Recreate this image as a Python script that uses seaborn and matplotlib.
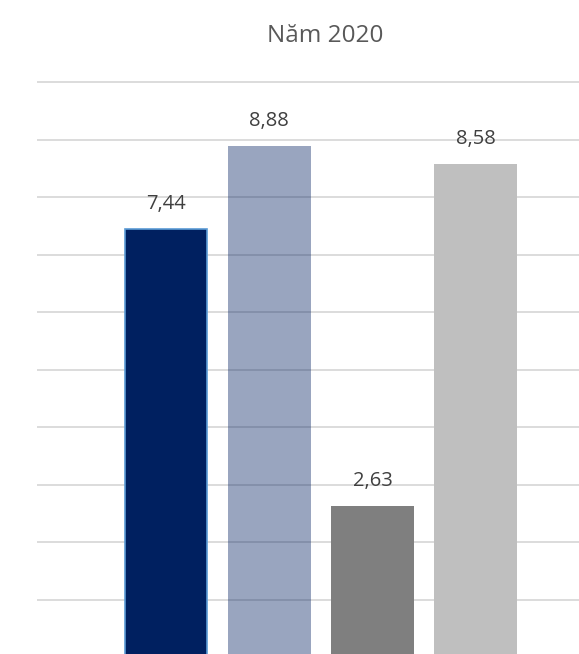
import matplotlib
matplotlib.use("Agg")
import matplotlib.pyplot as plt
import seaborn as sns
import pandas as pd

# Data
categories = ["A", "B", "C", "D"]
values = [7.44, 8.88, 2.63, 8.58]
labels = ["7,44", "8,88", "2,63", "8,58"]
colors = ["#002060", "#002060", "#7F7F7F", "#BFBFBF"]
alphas = [1.0, 0.4, 1.0, 1.0]

df = pd.DataFrame({"cat": categories, "val": values})

sns.set_theme(style="white")
plt.rcParams["font.family"] = ["Open Sans", "DejaVu Sans"]

W, H = 579, 654
fig = plt.figure(figsize=(W / 100, H / 100), dpi=100)

# axes geometry in pixels
px_per_unit = 57.56
y_top_val = 10.1
y_bot_val = 0.06
top_px = 82 - (y_top_val - 10) * px_per_unit
bot_px = 654
left_px, right_px = 37, 579
ax = fig.add_axes([left_px / W, 1 - bot_px / H, (right_px - left_px) / W, (bot_px - top_px) / H])

# gridlines beneath bars
for v in range(1, 11):
    ax.axhline(v, color="#D9D9D9", lw=1.3, zorder=0)

sns.barplot(data=df, x="cat", y="val", hue="cat", palette=colors, legend=False,
            width=0.8, ax=ax, zorder=2, saturation=1)

for i, p in enumerate(ax.patches):
    p.set_alpha(alphas[i])
    if i == 0:
        p.set_edgecolor("#5B9BD5")
        p.set_linewidth(1.2)
    else:
        p.set_linewidth(0)

label_offset = 25 / px_per_unit
for i, (v, t) in enumerate(zip(values, labels)):
    ax.text(i, v + label_offset, t, ha="center", va="center", fontsize=14.5,
            color="#404040", zorder=3)

ax.set_xlim(-1.25, 4.0)
ax.set_ylim(y_bot_val, y_top_val)
ax.set_xlabel("")
ax.set_ylabel("")
ax.set_xticks([])
ax.set_yticks([])
for s in ax.spines.values():
    s.set_visible(False)
ax.patch.set_alpha(0)

fig.text(325 / W, 1 - 36 / H, "Năm 2020", ha="center", va="center", fontsize=17.5, color="#595959")

fig.savefig("out.png", dpi=100)
